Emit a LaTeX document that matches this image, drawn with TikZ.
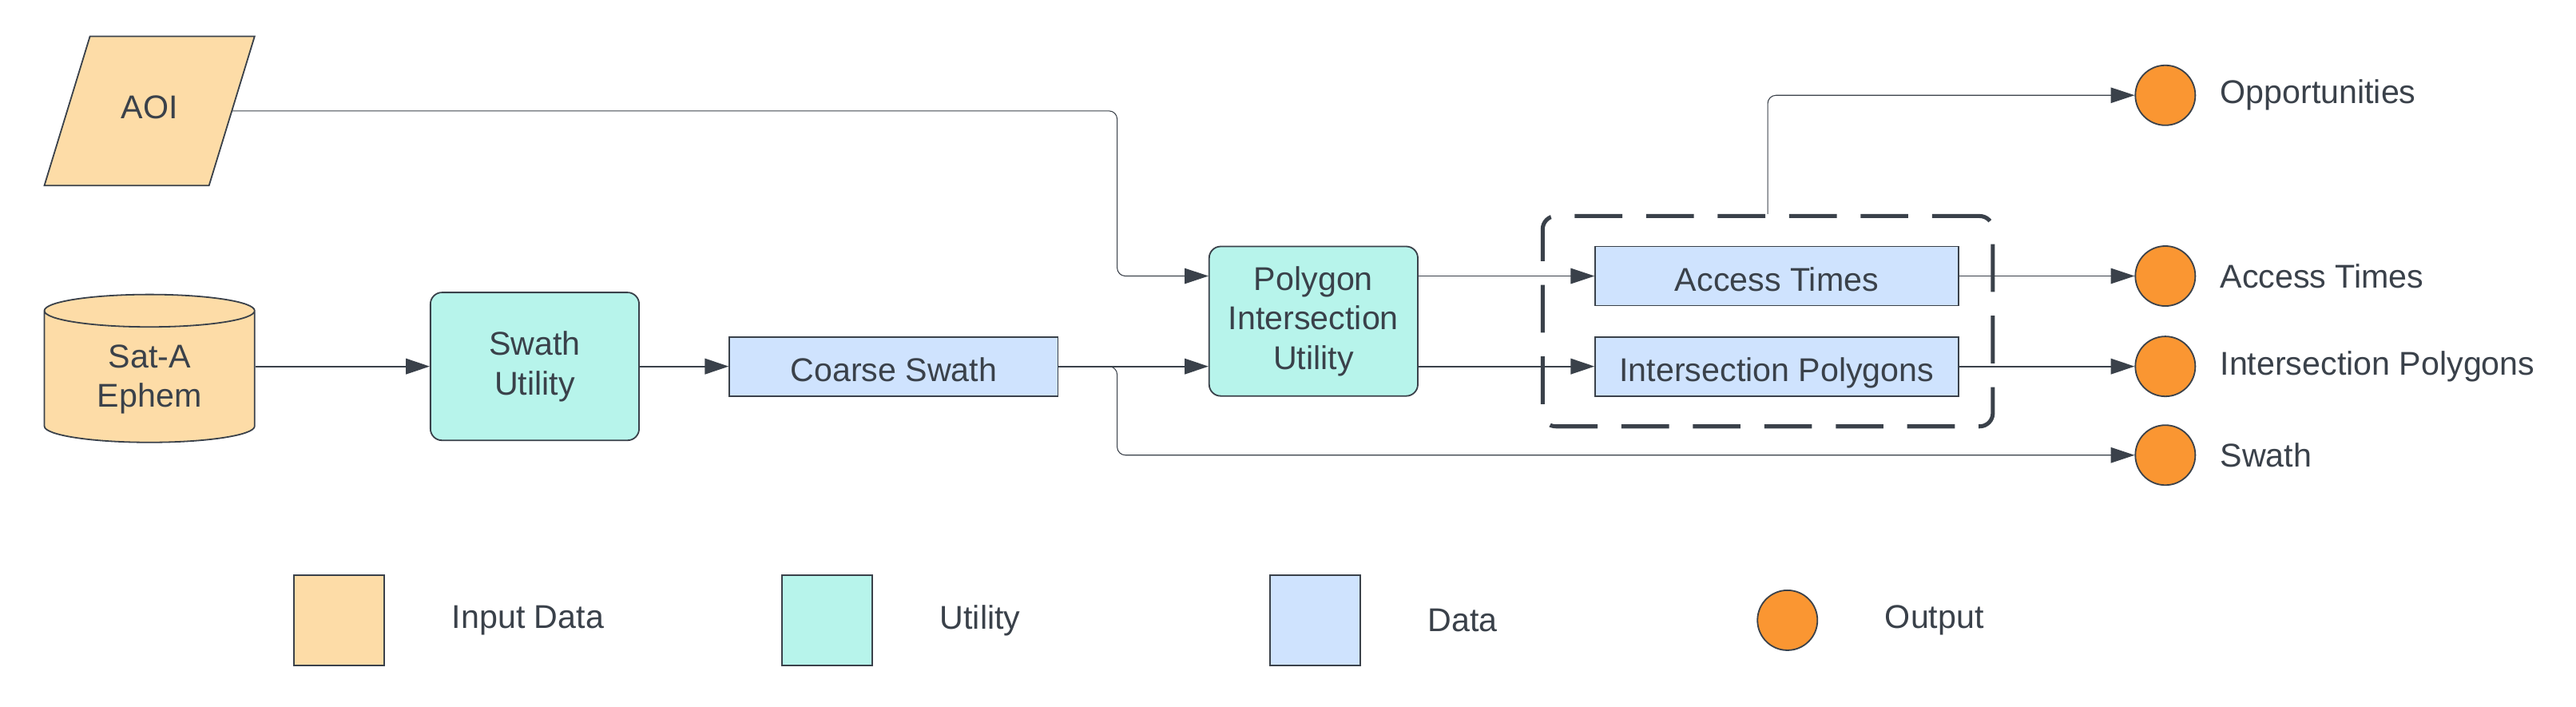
\documentclass[tikz,border=0pt]{standalone}
\usepackage{fontspec}
\setmainfont{Liberation Sans}
\usetikzlibrary{positioning,shapes.geometric,arrows.meta}
\definecolor{ink}{HTML}{3A414A}
\definecolor{inputc}{HTML}{FDDCA7}
\definecolor{utilc}{HTML}{B7F4EB}
\definecolor{datac}{HTML}{CFE3FE}
\definecolor{outputc}{HTML}{FA9632}

\begin{document}
\begin{tikzpicture}[
			font=\fontsize{11.4}{13.7}\selectfont,text=ink,
			base/.style={draw=ink,line width=0.5pt,align=center,inner sep=2pt},
			inbox/.style={base,fill=inputc},
			util/.style={base,fill=utilc,rounded corners=4pt,minimum width=2.54cm,minimum height=1.8cm},
			databox/.style={base,fill=datac,minimum height=0.72cm,text height=10.4pt,text depth=0pt},
			outc/.style={base,circle,fill=outputc,minimum size=0.73cm,inner sep=0pt},
			key/.style={base,minimum size=1.1cm},
			link/.style={draw=ink,line width=0.55pt,-{Triangle[length=0.29cm,width=0.19cm]},rounded corners=0.1cm},
			faint/.style={link,line width=0.3pt}]
			\useasboundingbox (0,0) rectangle (31.36,8.6);
			\node (aoi) [inbox,trapezium,trapezium left angle=73,trapezium right angle=107,
				trapezium stretches body,text height=8.2pt,text depth=2.8pt,inner ysep=0.715cm,
				minimum width=2.56cm] at (1.82,7.25) {AOI};
			\node (ephem) [inbox,cylinder,shape border rotate=90,aspect=0.28,
				minimum width=2.56cm,minimum height=1.8cm] at (1.82,3.98) {Sat-A\\Ephem};
			\node (swu) [util] at (6.51,4.14) {Swath\\Utility};
			\node (coarse) [databox,minimum width=4cm] at (10.88,4.14) {Coarse Swath};
			\node (poly) [util,minimum height=1.82cm] at (15.99,4.69) {Polygon\\Intersection\\Utility};
			\node (access) [databox,minimum width=4.42cm] at (21.63,5.24) {Access Times};
			\node (ipoly) [databox,minimum width=4.42cm] at (21.63,4.14) {Intersection Polygons};
			\node (opp) [outc,label={[xshift=0.17cm]right:Opportunities}] at (26.36,7.44) {};
			\node (ato) [outc,label={[xshift=0.17cm]right:Access Times}] at (26.36,5.24) {};
			\node (ipo) [outc,label={[xshift=0.17cm]right:Intersection Polygons}] at (26.36,4.14) {};
			\node (swo) [outc,label={[xshift=0.17cm]right:Swath}] at (26.36,3.06) {};
			\coordinate (jn) at (13.6,4.14);
			\draw [link] (ephem.east |- swu.west) -- (swu.west);
			\draw [link] (swu.east) -- (coarse.west);
			\draw [link] (coarse.east) -- (poly.west |- coarse.east);
			\draw [faint] (aoi.east) -| (jn |- access) -- (poly.west |- access);
			\draw [faint] (coarse.east) -- (jn) |- (swo.west);
			\draw [faint] (poly.east |- access) -- (access.west);
			\draw [link] (poly.east |- ipoly) -- (ipoly.west);
			\draw [faint] (access.east) -- (ato.west);
			\draw [link] (ipoly.east) -- (ipo.west);
			\node (grp) [draw=ink,line width=1.4pt,dash pattern=on 0.58cm off 0.29cm,rounded corners=0.16cm,
				minimum width=5.48cm,minimum height=2.56cm] at (21.52,4.69) {};
			\draw [faint] (grp.north) |- (opp.west);
			\node (kin) [key,fill=inputc,label={[xshift=0.69cm]right:Input Data}] at (4.13,1.05) {};
			\node (kut) [key,fill=utilc,label={[xshift=0.69cm]right:Utility}] at (10.07,1.05) {};
			\node (kda) [key,fill=datac,label={[xshift=0.69cm]right:Data}] at (16.01,1.05) {};
			\node (kout) [outc,label={[xshift=0.69cm]right:Output}] at (21.76,1.05) {};
		\end{tikzpicture}
\end{document}
